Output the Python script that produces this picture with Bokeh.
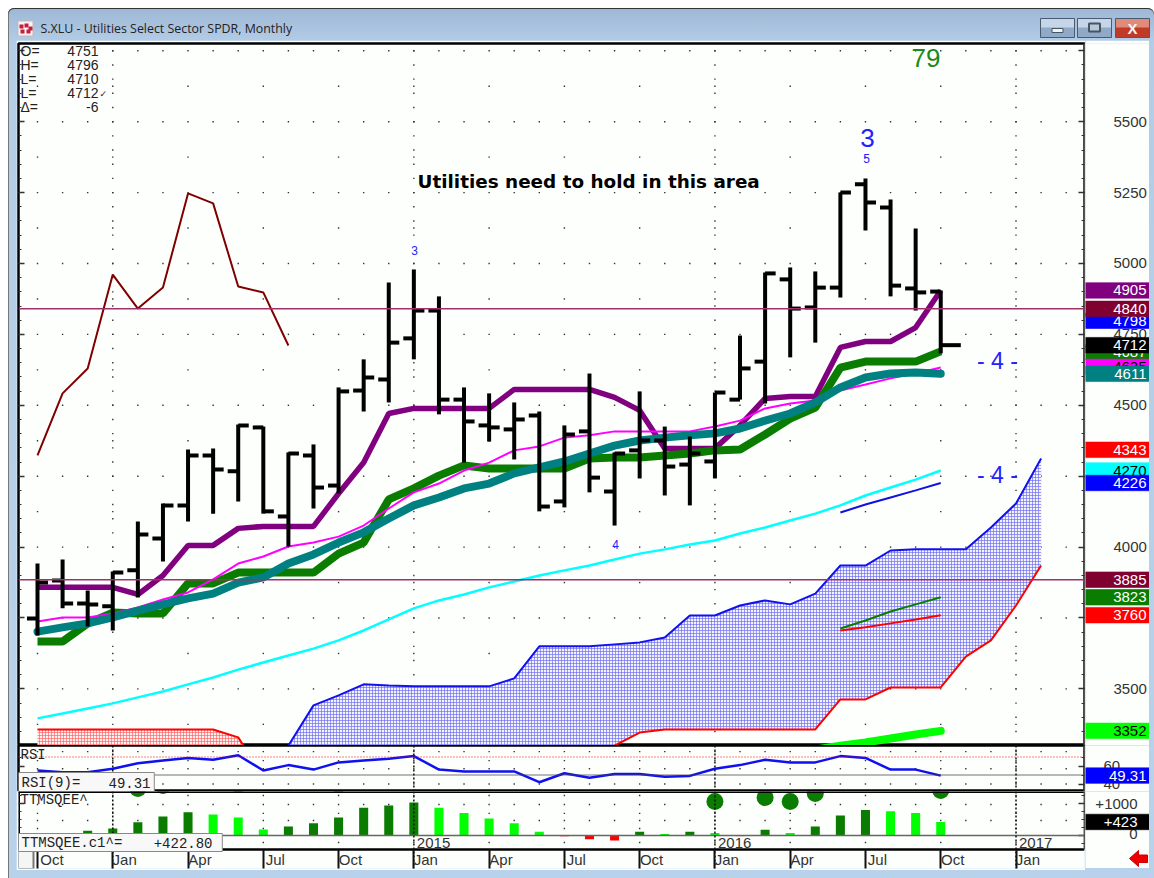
from bokeh.plotting import figure
from bokeh.embed import file_html
from bokeh.resources import INLINE
from bokeh.layouts import column, row
from bokeh.models import (Range1d, LinearAxis, FixedTicker, Span, Label, Spacer,
                          BasicTickFormatter)
from bokeh.core.properties import value

# ---------- data ----------
quarter_labels = ["Oct","Jan","Apr","Jul","Oct","Jan","Apr","Jul","Oct","Jan","Apr","Jul","Oct","Jan"]
year_labels = ["2015", "2016", "2017"]

bar_high = [3942,3956,3847,3914,4090,4154,4344,4348,4432,4425,4334,4362,4563,4662,4933,4979,4884,4563,4542,4510,4478,4429,4612,4334,4549,4425,4390,4545,4746,4968,4986,4972,5250,5300,5226,5123,4905]
bar_low = [3688,3784,3720,3706,3822,3949,4090,4118,4161,4118,4002,4136,4189,4478,4510,4662,4468,4298,4372,4309,4126,4140,4193,4076,4242,4182,4147,4242,4520,4506,4669,4721,4880,5116,4884,4834,4683]
bar_open = [3748,3882,3801,3791,3918,4030,4147,4323,4267,4422,4108,4323,4217,4552,4591,4736,4834,4520,4429,4415,4464,4161,4408,4196,4341,4376,4291,4302,4520,4654,4944,4845,4915,5279,5197,4912,4901]
bar_close = [3875,3801,3798,3910,4044,4147,4323,4274,4429,4126,4330,4210,4549,4598,4721,4834,4520,4443,4422,4450,4143,4397,4245,4330,4376,4284,4330,4545,4630,4965,4841,4915,5250,5215,4922,4898,4712]

purple = [3858,3858,3858,3858,3833,3900,4006,4006,4066,4073,4073,4073,4189,4298,4471,4489,4489,4489,4489,4556,4556,4556,4556,4528,4482,4348,4348,4348,4429,4524,4531,4531,4704,4725,4725,4774,4905]
green = [3667,3667,3731,3769,3766,3766,3872,3872,3910,3910,3910,3910,3977,4016,4168,4207,4252,4288,4277,4277,4277,4277,4312,4316,4316,4323,4330,4341,4344,4397,4453,4492,4633,4654,4654,4654,4690]
teal = [3702,3717,3731,3752,3776,3798,3819,3836,3875,3893,3942,3974,4016,4052,4101,4147,4175,4207,4224,4260,4281,4302,4330,4358,4376,4386,4394,4401,4418,4446,4471,4510,4563,4598,4612,4616,4611]
magenta = [3738,3752,3752,3766,3787,3815,3840,3886,3942,3967,4002,4016,4037,4076,4136,4193,4224,4270,4298,4341,4355,4386,4394,4408,4408,4408,4408,4425,4446,4489,4506,4517,4552,4573,4595,4612,4633]
cyan = [3396,3413,3431,3449,3470,3491,3516,3540,3568,3593,3618,3642,3671,3706,3745,3784,3812,3833,3858,3879,3900,3918,3935,3956,3977,3992,4009,4023,4048,4069,4094,4118,4147,4182,4210,4238,4270]
dark_red = [4323,4542,4630,4961,4841,4915,5247,5212,4919,4898,4711]
short_blue = [4122,4150,4175,4200,4226]
short_green = [3713,3741,3773,3798,3823]
short_red = [3706,3717,3731,3745,3760]
lime_line = [3286,3300,3311,3325,3339,3352]

band_upper = [3300,3442,3477,3516,3512,3509,3509,3509,3509,3537,3650,3650,3650,3657,3664,3681,3759,3759,3794,3812,3798,3836,3935,3935,3988,3992,3992,3992,4069,4154,4312]
band_lower = [3230,3230,3230,3230,3230,3230,3230,3230,3230,3230,3230,3230,3230,3300,3346,3357,3357,3357,3357,3357,3357,3357,3463,3463,3505,3505,3505,3614,3671,3794,3935]
red_band = [3357,3357,3357,3357,3357,3357,3357,3357,3329,3190]

rsi = [55,53,53,57,63,66,69,67,72,55,61,56,64,66,68,71,56,54,54,54,42,52,47,51,51,48,49,57,61,67,64,64,71,69,56,56,49.31]
ttm = [0,0,146,219,417,594,729,656,562,187,281,385,562,865,940,1030,865,700,530,385,115,-30,-115,-155,115,50,115,80,-25,180,80,280,625,800,760,700,423]
ttm_kind = "ddddddd" "lll" "dddddd" "lllll" "rrr" "d" "l" "d" "l" "r" "d" "l" "ddd" "lll"
squeeze_x = [4,5,8,12,27,29,30,31,32,36]
squeeze_y = [1469,1562,1594,1594,1062,1187,1062,1312,1656,1406]

price_tags = [("4687","#0a7d00","white"),("4635","#ff00ff","black"),("4611","#008080","white"),
              ("4798","#0000ff","white"),("4840","#800030","white"),("4905","#800080","white"),
              ("4712","#000000","white"),("4343","#ff0000","white"),("4270","#00ffff","black"),
              ("4226","#0000ff","white"),("3885","#800030","white"),("3823","#0a7d00","white"),
              ("3760","#ff0000","white"),("3352","#00ff00","black")]
h_levels = [4840, 3885]
ohlc = [("O=","4751"),("H=","4796"),("L=","4710"),("L=","4712"),("\u0394=","-6")]

# ---------- layout constants ----------
PX0, PXM = 37.0, 25.09
FW = 1066
def xp(px):
    return (px - PX0) / PXM
def yp_main(px):
    return 5927.3 - 3.526 * px
def yp_rsi(px):
    return 50 + (774.5 - px) / 0.9
def yp_ttm(px):
    return (835 - px) * 31.25

x_rng = Range1d(xp(18), xp(1084))
LS, LM = "Liberation Sans", "Liberation Mono"
DARK = "#0a7d00"
months = list(range(len(bar_high)))
PANEL_BG = "#fdfffd"

def base(fh, yr):
    p = figure(frame_width=FW, frame_height=fh, x_range=x_rng, y_range=yr, width=1069,
               height=fh, output_backend="svg", toolbar_location=None,
               y_axis_location="right", x_axis_location=None, min_border_left=2, min_border_right=1,
               min_border_top=0, min_border_bottom=0,
               background_fill_color=PANEL_BG, border_fill_color=PANEL_BG,
               outline_line_color="black", outline_line_width=2.5)
    p.grid.visible = False
    return p

def style_ticks(a, ticks, minor):
    a.ticker = FixedTicker(ticks=ticks, minor_ticks=minor)
    a.major_tick_in, a.major_tick_out = 6, 0
    a.minor_tick_in, a.minor_tick_out = 3, 0
    a.major_tick_line_width = 1.5
    a.major_tick_line_color = "#333333"
    a.minor_tick_line_color = "#333333"
    a.axis_line_color = "#555555"
    a.axis_line_width = 2
    a.major_label_overrides = {t: "" for t in ticks}
    a.major_label_standoff = 0

def left_ticks(p, ticks, minor):
    a = LinearAxis()
    style_ticks(a, ticks, minor)
    a.axis_line_color = None
    p.add_layout(a, "left")

def label(p, x, y, text, font=LS, size="14px", color="#222222", style="normal", **kw):
    l = Label(x=x, y=y, text=text, text_font=font, text_font_size=size, text_color=color,
              text_font_style=style, text_baseline="middle", **kw)
    p.add_layout(l)
    return l

def dots(p, xs, ys):
    p.scatter(xs, ys, marker="square", size=1.4, fill_color="#333333", line_color=None)

def side(fh, yr, top=0):
    s = figure(frame_width=64, frame_height=fh, width=64, height=fh + top, x_range=Range1d(1085, 1149),
               y_range=yr, output_backend="svg", toolbar_location=None, y_axis_location=None,
               x_axis_location=None, min_border=0, min_border_top=top,
               background_fill_color=PANEL_BG, border_fill_color=PANEL_BG, outline_line_color=None)
    s.grid.visible = False
    return s

def scale_axis(s, ticks, standoff, overrides=None):
    a = LinearAxis(ticker=FixedTicker(ticks=ticks), formatter=BasicTickFormatter(use_scientific=False),
                   level="underlay")
    a.major_tick_in = a.major_tick_out = 0
    a.minor_tick_in = a.minor_tick_out = 0
    a.axis_line_color = None
    a.major_label_standoff = standoff
    a.major_label_text_font = LS
    a.major_label_text_font_size = "15px"
    a.major_label_text_color = "#333333"
    if overrides:
        a.major_label_overrides = overrides
    s.add_layout(a, "right")

def tag(s, y, text, bg, fg, xr=1146):
    s.rect([1117], [y], 64, 15.5, height_units="screen", fill_color=bg, line_color=bg, line_alpha=0.6)
    s.text([xr], [y], [text], text_font=value(LS), text_font_size="15px", text_color=fg,
           text_align="right", text_baseline="middle")

# ---------- main price panel ----------
main_y = Range1d(yp_main(745), yp_main(43))
price_ticks = list(range(3500, 5751, 250))
price_minor = list(range(3350, 5751, 50))
main = base(702, main_y)
main.min_border_top = 3
main.height = 705
style_ticks(main.yaxis[0], price_ticks, price_minor)
left_ticks(main, price_ticks, price_minor)

dx, dy = [], []
for lev in price_ticks:
    for i in range(0, 42):
        if lev == 5750 and i < 3:
            continue
        dx.append(i); dy.append(lev)
for lev in range(3375, 5750, 250):
    for i in range(0, 42, 3):
        dx.append(i); dy.append(lev)
for i in (3, 15, 27, 39):
    for lev in price_minor:
        if i == 15 and lev == 5050:
            continue
        dx.append(i); dy.append(lev)
dots(main, dx, dy)

band_x = list(range(10, 41))
main.varea(band_x, band_lower, band_upper, fill_color="#f2f2ff", hatch_pattern="cross",
           hatch_scale=3, hatch_weight=0.65, hatch_color="#6a6aee")
main.varea(list(range(10)), [3100]*10, red_band, fill_color="#fff0f0", hatch_pattern="cross",
           hatch_scale=3, hatch_weight=0.65, hatch_color="#ff6060")
main.line(list(range(10)), red_band, line_color="#ff0000", line_width=2)
main.line(band_x, band_upper, line_color="#1010f0", line_width=2)
main.line(band_x[13:], band_lower[13:], line_color="#ff0000", line_width=2)

for lev in h_levels:
    main.add_layout(Span(location=lev, dimension="width", line_color="#a0306a", line_width=1.5))

main.line(months, cyan, line_color="#00ffff", line_width=2.5)
main.line(list(range(11)), dark_red, line_color="#800000", line_width=2)
main.line(months, purple, line_color="#800080", line_width=5.5)
main.line(months, green, line_color=DARK, line_width=8)
main.line(months, magenta, line_color="#ff00ff", line_width=2)
main.line(months, teal, line_color="#008080", line_width=8, line_cap="round")
short_x = months[32:]
main.line(short_x, short_blue, line_color="#1010e0", line_width=2)
main.line(short_x, short_green, line_color=DARK, line_width=2)
main.line(short_x, short_red, line_color="#ff0000", line_width=2)
main.line(months[31:], lime_line, line_color="#00ff00", line_width=8, line_cap="round")

main.segment(months, bar_low, months, bar_high, line_color="black", line_width=4)
main.segment([m - 0.42 for m in months], bar_open, months, bar_open, line_color="black", line_width=4)
close_x1 = [m + 0.42 for m in months]
close_x1[-1] = months[-1] + 0.8
main.segment(months, bar_close, close_x1, bar_close, line_color="black", line_width=4)

label(main, xp(417), yp_main(181), "Utilities need to hold in this area", font="DejaVu Sans",
      size="18.4px", color="black", style="bold")
label(main, xp(911), yp_main(57), "79", size="26px", color="#1a8a1a")
BLUE = "#2222ff"
label(main, xp(867), yp_main(137), "3", size="26px", color=BLUE, text_align="center")
label(main, xp(866), yp_main(158), "5", size="12px", color=BLUE, text_align="center")
label(main, xp(414), yp_main(250), "3", size="12px", color=BLUE, text_align="center")
label(main, xp(615), yp_main(544), "4", size="12px", color=BLUE, text_align="center")
label(main, xp(997), yp_main(360), "- 4 -", size="23px", color=BLUE, text_align="center")
label(main, xp(997), yp_main(474), "- 4 -", size="23px", color=BLUE, text_align="center")

for k, (a, b) in enumerate(ohlc):
    yy = yp_main(50 + 14.2 * k)
    label(main, xp(20), yy, a, size="14px")
    label(main, xp(98), yy, b, size="14px", text_align="right")
label(main, xp(99), yp_main(93), "\u2713", font="DejaVu Sans", size="9px")

s_main = side(702, main_y, top=3)
scale_axis(s_main, price_ticks, -36, {5750: ""})
for txt, bg, fg in price_tags:
    tag(s_main, float(txt), txt, bg, fg)

# ---------- RSI panel ----------
rsi_y = Range1d(yp_rsi(791), yp_rsi(745))
pr = base(46, rsi_y)
style_ticks(pr.yaxis[0], [40, 60], [50, 70])
left_ticks(pr, [40, 60], [50, 70])
pr.add_layout(Span(location=70, dimension="width", line_color="#ff0000", line_width=1, line_dash="1 2"))
pr.add_layout(Span(location=50, dimension="width", line_color="#444444", line_width=1.5, line_dash="1 1"))
for i in (3, 15, 27, 39):
    pr.add_layout(Span(location=i, dimension="height", line_color="#111111", line_width=1.5, line_dash="2 2"))
dx, dy = [], []
for lev in (76, 57, 40):
    for i in range(0, 42):
        dx.append(i); dy.append(lev)
for lev in (66,):
    for i in range(0, 42, 3):
        dx.append(i); dy.append(lev)
dots(pr, dx, dy)
pr.line(months, rsi, line_color="#1010f0", line_width=2.5)
label(pr, xp(20), yp_rsi(754), "RSI", font=LM)
label(pr, xp(18), yp_rsi(782), "RSI(9)=", font=LM, background_fill_color="#f8f8f8",
      padding=dict(left=3, right=74, top=2, bottom=2), border_line_color="#888888")
label(pr, xp(150), yp_rsi(782), "49.31", font=LM, text_align="right")

s_rsi = side(46, rsi_y)
scale_axis(s_rsi, [40, 60], -46)
tag(s_rsi, 49.31, "49.31", "#0000ff", "white")

# ---------- TTM panel (its frame also holds the date strip) ----------
ttm_y = Range1d(yp_ttm(868), yp_ttm(791))
pt = base(77, ttm_y)
pt.outline_line_color = None
style_ticks(pt.yaxis[0], [0, 1000], [-250, 250, 500, 750, 1250])
pt.yaxis[0].bounds = (yp_ttm(849), yp_ttm(791))
left_ticks(pt, [0, 1000], [-250, 250, 500, 750, 1250])
pt.add_layout(Span(location=0, dimension="width", line_color="#666666", line_width=1.5))
for i in (3, 15, 27, 39):
    pt.add_layout(Span(location=i, dimension="height", line_color="#111111", line_width=1.5, line_dash="2 2"))
dx, dy = [], []
for lev in (970, 470):
    for i in range(0, 42):
        dx.append(i); dy.append(lev)
for lev in (1250, 690, 220, -220):
    for i in range(0, 42, 3):
        dx.append(i); dy.append(lev)
dots(pt, dx, dy)
kind_col = {"d": DARK, "l": "#00ff00", "r": "#ff0000"}
bar_cols = [kind_col[k] for k in ttm_kind]
bar_cols[21] = bar_cols[28] = "#ff8080"
pt.vbar(x=months, top=ttm, bottom=0, width=0.36, fill_color=bar_cols, line_color=None)
pt.scatter(squeeze_x, squeeze_y, marker="circle", size=17, fill_color=DARK, line_color=None)
# panel frame lines and the strip's corner box
pt.segment([xp(18)], [yp_ttm(849)], [xp(18)], [yp_ttm(791)], line_color="black", line_width=3)
pt.segment([xp(18)], [yp_ttm(791)], [xp(1084)], [yp_ttm(791)], line_color="black", line_width=3)
pt.segment([xp(18)], [yp_ttm(849)], [xp(1084)], [yp_ttm(849)], line_color="black", line_width=2.5)
pt.quad(left=[xp(17.5)], right=[xp(33)], top=[yp_ttm(847)], bottom=[yp_ttm(868.5)],
        fill_color="#f4f6f4", line_color="#777777", line_width=2)
for yr, xi in zip(year_labels, (15, 27, 39)):
    label(pt, xi + 0.12, yp_ttm(842.5), yr, size="15px", color="#333333")
label(pt, xp(20), yp_ttm(799), "TTMSQEE^", font=LM)
label(pt, xp(18), yp_ttm(842), "TTMSQEE.c1^=", font=LM, background_fill_color="#f8f8f8",
      padding=dict(left=3, right=100, top=1, bottom=1), border_line_color="#888888")
label(pt, xp(212), yp_ttm(842), "+422.80", font=LM, text_align="right")

ax = LinearAxis(ticker=FixedTicker(ticks=list(range(0, 40, 3))))
ax.major_label_overrides = {i * 3: "\u00a0" * 5 + "\u2009" + t for i, t in enumerate(quarter_labels)}
ax.major_tick_in, ax.major_tick_out = 19, 0
ax.minor_tick_line_color = None
ax.axis_line_color = None
ax.major_tick_line_color = "#111111"
ax.major_tick_line_width = 2
ax.major_label_standoff = -18
ax.major_label_text_font = LS
ax.major_label_text_font_size = "15px"
ax.major_label_text_color = "#333333"
pt.add_layout(ax, "below")

s_ttm = side(77, ttm_y)
s_ttm.text([1137, 1137], [1000, 40], ["+1000", "0"], text_font=value(LS), text_font_size="15px",
           text_color="#333333", text_align="right", text_baseline="middle")
tag(s_ttm, 423, "+423", "#000000", "white", xr=1137)
s_ttm.patch([1129, 1138, 1138, 1147, 1147, 1138, 1138],
            [yp_ttm(858), yp_ttm(850), yp_ttm(854.5), yp_ttm(854.5), yp_ttm(862), yp_ttm(862), yp_ttm(866)],
            fill_color="#ee0000", line_color="#cc0000")

# ---------- window title bar ----------
title = figure(width=1146, height=32, x_range=(0, 1146), y_range=(32, 0), output_backend="svg",
               toolbar_location=None, x_axis_location=None, y_axis_location=None,
               min_border=0, background_fill_color=None, border_fill_color=None, outline_line_color=None)
title.grid.visible = False
title.rect([17], [20], 15, 15, fill_color="#fff0f0", line_color="#bbbbbb")
title.scatter([13, 18, 22, 14, 20], [18, 17, 20, 23, 23], marker="square", size=4, fill_color="#c02040", line_color=None)
title.text([32], [20], ["S.XLU - Utilities Select Sector SPDR, Monthly"], text_font=value("Open Sans"),
           text_font_size="12.4px", text_color="#222222", text_baseline="middle")
for cx, w, c1, c2 in ((1049, 34, "#c4d6e8", "#8fa9c7"), (1086, 34, "#c4d6e8", "#8fa9c7"), (1124, 34, "#e08a7a", "#c03a28")):
    title.rect([cx], [15], w, 9, fill_color=c1, line_color=None)
    title.rect([cx], [24], w, 10, fill_color=c2, line_color=None)
    title.rect([cx], [19.5], w, 19, fill_color=None, line_color="#4a5a70", line_width=1)
title.rect([1049], [22], 11, 4, fill_color="#f2f2f2", line_color="#445566")
title.rect([1086], [19], 11, 8, fill_color="#b8c8d8", line_color="#445566", line_width=2)
title.text([1124], [20], ["X"], text_font=value("Liberation Sans"), text_font_style="bold",
           text_font_size="15px", text_color="#f4f4f4", text_align="center", text_baseline="middle")

# ---------- assemble ----------
panels = column(main, pr, pt, spacing=0)
sides = column(s_main, s_rsi, s_ttm, spacing=0)
body = row(Spacer(width=8, height=10), panels, sides, Spacer(width=5, height=10), spacing=0)
root = column(title, body, Spacer(width=1146, height=10), spacing=0, margin=(8, 0, 0, 8),
              styles={"background": "linear-gradient(#9db8d6 0px, #b4cde7 36px, #b9d2ec 100%)",
                      "border-radius": "6px 6px 0 0", "box-shadow": "inset 0 1px 0 #333333, inset 1px 0 0 #777777"})
open("out.html", "w").write(file_html(root, INLINE))
